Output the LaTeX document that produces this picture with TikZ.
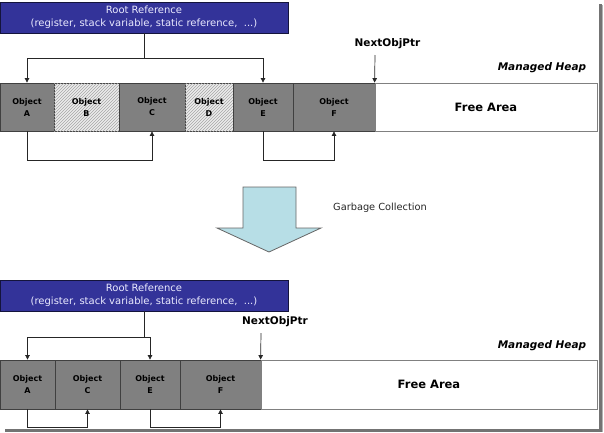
\documentclass[tikz,border=0pt]{standalone}
\usepackage{fontspec}
\setmainfont{DejaVu Sans}
\usetikzlibrary{arrows.meta,patterns}
\definecolor{rootblue}{RGB}{51,51,153}
\definecolor{rootedge}{RGB}{20,20,60}
\definecolor{cellgray}{RGB}{128,128,128}
\definecolor{celledge}{RGB}{64,64,64}
\definecolor{gcblue}{RGB}{183,222,230}
\definecolor{roottext}{RGB}{235,235,255}
\begin{document}
\begin{tikzpicture}[x=1pt,y=-1pt,
  rootbox/.style={draw=rootedge,fill=rootblue,line width=0.8pt,minimum width=288pt,minimum height=31pt,inner sep=0pt,
    text=roottext,font=\fontsize{10}{13}\selectfont,align=center},
  cell/.style={draw=celledge,fill=cellgray,line width=0.8pt,inner sep=0pt,font=\bfseries\fontsize{8}{12}\selectfont,align=center,text=black},
  deadcell/.style={cell,fill=gray!15,postaction={pattern=north east lines,pattern color=gray!70}},
  freebox/.style={draw=gray,fill=white,line width=0.8pt,inner sep=0pt,font=\bfseries\fontsize{11.5}{14}\selectfont},
  lbl/.style={inner sep=0pt,font=\bfseries\fontsize{10.5}{13}\selectfont},
  heaplbl/.style={inner sep=0pt,font=\bfseries\itshape\fontsize{10.5}{13}\selectfont},
  arr/.style={draw=black!85,line width=0.7pt,-{Triangle[length=4.5pt,width=4.5pt]}},
  ln/.style={draw=black!85,line width=0.7pt}
]
\useasboundingbox (0,0) rectangle (604,432);
% frame shadow
\draw[line width=3pt,black!55] (600.5,4) -- (600.5,430.5) -- (5,430.5);
\draw[line width=1pt,black!30] (602.5,5) -- (602.5,432);

% ---------- top part ----------
\node[rootbox] (root1) at (144,17.5) {Root Reference\\(register, stack variable, static reference, \ ...)};
\node[cell,minimum width=54pt,minimum height=48pt] (A1) at (27,107) {Object\\A};
\node[deadcell,minimum width=65pt,minimum height=48pt] (B1) at (86.5,107) {Object\\B};
\node[cell,minimum width=66pt,minimum height=48pt] (C1) at (152,107) {Object\\C};
\node[deadcell,minimum width=48pt,minimum height=48pt] (D1) at (209,107) {Object\\D};
\node[cell,minimum width=60pt,minimum height=48pt] (E1) at (263,107) {Object\\E};
\node[cell,minimum width=82pt,minimum height=48pt] (F1) at (334,107) {Object\\F};
\node[freebox,minimum width=222pt,minimum height=48pt] (Free1) at (486,107) {Free Area};
\node[lbl] (nop1) at (387.5,44) {NextObjPtr};
\node[heaplbl] (mh1) at (542,68) {Managed Heap};

\coordinate (j1) at (144,58);
\draw[ln] (root1.south) -- (j1);
\draw[arr] (j1) -| (A1.north);
\draw[arr] (j1) -| (E1.north);
\coordinate (p1) at (375,55);
\draw[arr] (p1) -- (Free1.north west);
\draw[arr] (A1.south) -- ++(0,29) -| (C1.south);
\draw[arr] (E1.south) -- ++(0,29) -| (F1.south);

% ---------- GC arrow ----------
\draw[fill=gcblue,draw=black!60,line width=0.8pt] (243,187) coordinate (gc) -- (296,187) -- (296,228) -- (321,228) -- (269,252) -- (217,228) -- (243,228) -- cycle;
\node[inner sep=0pt,font=\fontsize{9.8}{12}\selectfont,text=black!85] (gclbl) at (380,208) {Garbage Collection};

% ---------- bottom part ----------
\node[rootbox] (root2) at (144,295.5) {Root Reference\\(register, stack variable, static reference, \ ...)};
\node[cell,minimum width=55pt,minimum height=49pt] (A2) at (27.5,384.5) {Object\\A};
\node[cell,minimum width=65pt,minimum height=49pt] (C2) at (87.5,384.5) {Object\\C};
\node[cell,minimum width=60pt,minimum height=49pt] (E2) at (150,384.5) {Object\\E};
\node[cell,minimum width=81pt,minimum height=49pt] (F2) at (220.5,384.5) {Object\\F};
\node[freebox,minimum width=336pt,minimum height=49pt] (Free2) at (429,384.5) {Free Area};
\node[lbl] (nop2) at (275,322) {NextObjPtr};
\node[heaplbl] (mh2) at (542,346) {Managed Heap};

\coordinate (j2) at (144,337);
\draw[ln] (root2.south) -- (j2);
\draw[arr] (j2) -| (A2.north);
\draw[arr] (j2) -| (E2.north);
\coordinate (p2) at (261,333);
\draw[arr] (p2) -- (Free2.north west);
\draw[arr] (A2.south) -- ++(0,18) -| (C2.south);
\draw[arr] (E2.south) -- ++(0,18) -| (F2.south);
\end{tikzpicture}
\end{document}
